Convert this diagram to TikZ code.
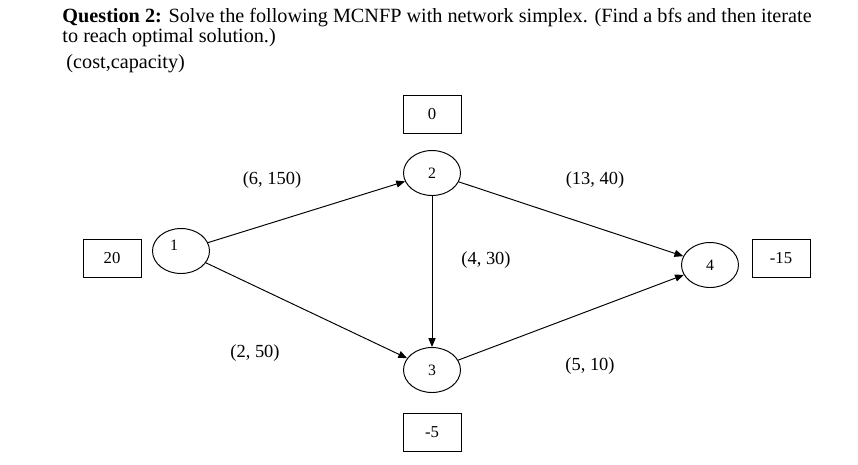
\documentclass[tikz,border=0pt]{standalone}
\usepackage{fontspec}
\setmainfont{Liberation Serif}
\usetikzlibrary{shapes.geometric,arrows.meta}
\begin{document}
\begin{tikzpicture}[x=0.02cm,y=-0.02cm,line width=0.55pt,
  nd/.style={draw,ellipse,minimum width=57*0.02cm,minimum height=45*0.02cm,inner sep=0pt,font=\fontsize{9}{10}\selectfont},
  bx/.style={draw,minimum width=58*0.02cm,minimum height=38*0.02cm,inner sep=0pt,font=\fontsize{9.5}{11}\selectfont},
  lb/.style={font=\fontsize{10.5}{12}\selectfont},
  ar/.style={-{Triangle[length=5pt,width=4pt]}},
  tt/.style={anchor=base west,inner sep=0pt,font=\fontsize{11.5}{13}\selectfont}]
\useasboundingbox (0,0) rectangle (858,464);
\node[tt] (t1) at (62,22) {\textbf{Question 2:} Solve the following MCNFP with network simplex. (Find a bfs and then iterate};
\node[tt] (t2) at (62,42) {to reach optimal solution.)};
\node[tt] (t3) at (66,68) {(cost,capacity)};
\node[nd] (n1) at (181,251) {\raisebox{6pt}{\hspace*{-8pt}1}};
\node[nd] (n2) at (432,173) {2};
\node[nd] (n3) at (432,370) {3};
\node[nd] (n4) at (710,265) {4};
\node[bx] (b0) at (432,114) {0};
\node[bx] (b20) at (112,258) {20};
\node[bx] (b15) at (781,258) {-15};
\node[bx] (b5) at (432,432) {-5};
\draw[ar] (n1) -- (n2);
\draw[ar] (n1) -- (n3);
\draw[ar] (n2) -- (n3);
\draw[ar] (n2) -- (n4);
\draw[ar] (n3) -- (n4);
\node[lb] (l12) at (272,180) {(6, 150)};
\node[lb] (l13) at (255,353) {(2, 50)};
\node[lb] (l23) at (486,260) {(4, 30)};
\node[lb] (l24) at (595,180) {(13, 40)};
\node[lb] (l34) at (590,366) {(5, 10)};
\end{tikzpicture}
\end{document}
